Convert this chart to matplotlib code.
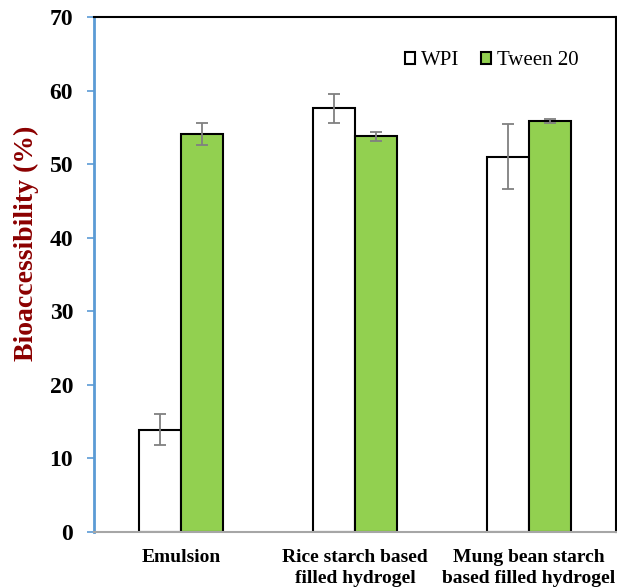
import numpy as np
import matplotlib.pyplot as plt

# data
categories = ["Emulsion", "Rice starch based\nfilled hydrogel", "Mung bean starch\nbased filled hydrogel"]
wpi = [13.9, 57.6, 51.0]
wpi_err = [2.1, 2.0, 4.4]
tween = [54.1, 53.8, 55.9]
tween_err = [1.5, 0.6, 0.3]

plt.rcParams['font.family'] = ['Liberation Serif', 'DejaVu Serif']

fig = plt.figure(figsize=(6.17, 5.87), dpi=100)
ax = fig.add_axes([94 / 617, 1 - 532 / 587, 522 / 617, 515 / 587])

x = np.arange(len(categories))
w = 0.24
err_kw = dict(ecolor='#808080', elinewidth=1.3, capsize=4, capthick=1.3)
ax.bar(x - w / 2, wpi, w, yerr=wpi_err, color='white', edgecolor='black',
       linewidth=1.5, label='WPI', error_kw=err_kw)
ax.bar(x + w / 2, tween, w, yerr=tween_err, color='#92D050', edgecolor='black',
       linewidth=1.5, label='Tween 20', error_kw=err_kw)

ax.set_xlim(-0.5, 2.5)
ax.set_ylim(0, 70)
ax.set_yticks(range(0, 71, 10))
ax.tick_params(axis='y', length=5, width=1.2, color='#5B9BD5', labelsize=17, pad=10)
ax.tick_params(axis='x', length=0, labelsize=14, pad=12)
for lab in ax.get_yticklabels() + ax.get_xticklabels():
    lab.set_fontweight('bold')
ax.set_xticks(x)
ax.set_xticklabels(categories, linespacing=1.35)

ax.spines['left'].set_color('#5B9BD5')
ax.spines['left'].set_linewidth(2)
ax.spines['bottom'].set_color('#A6A6A6')
ax.spines['bottom'].set_linewidth(1.5)
ax.spines['top'].set_linewidth(1.5)
ax.spines['right'].set_linewidth(1.5)

ax.set_ylabel("Bioaccessibility (%)", fontsize=20, fontweight='bold', color='#8B0000')
ax.yaxis.set_label_coords(-0.105, 0.56)

ax.legend(loc='upper right', bbox_to_anchor=(0.965, 0.97), ncol=2, frameon=False,
          fontsize=15, handlelength=0.5, handleheight=0.5, handletextpad=0.3,
          columnspacing=1.0)

fig.savefig("out.png", dpi=100)
